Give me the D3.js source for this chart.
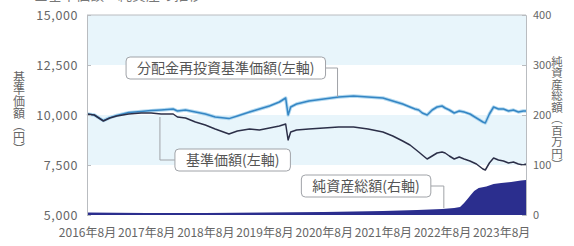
<!DOCTYPE html>
<html>
<head>
<meta charset="utf-8">
<script src="https://d3js.org/d3.v7.min.js"></script>
<style>
  body { margin: 0; background: #fff; }
  text { font-family: "Noto Sans CJK JP", "Noto Sans", sans-serif; }
</style>
</head>
<body>
<div id="chart"></div>
<script>
// 基準価額・分配金再投資基準価額 (円)
const lineDates = [
  "2016-08-01","2016-09-15","2016-11-10","2016-12-20","2017-02-01","2017-04-15","2017-07-01","2017-09-01",
  "2017-11-01","2018-01-15","2018-02-10","2018-04-01","2018-06-01","2018-08-01","2018-10-01","2018-12-25",
  "2019-02-15","2019-05-01","2019-07-01","2019-09-01","2019-11-01","2019-12-10","2019-12-25","2020-01-10",
  "2020-02-15","2020-05-01","2020-08-01","2020-11-01","2021-02-01","2021-05-01","2021-08-01","2021-10-01",
  "2021-12-01","2022-01-15","2022-02-15","2022-03-10","2022-04-01","2022-05-01","2022-06-01","2022-07-01",
  "2022-08-01","2022-08-20","2022-09-15","2022-10-15","2022-11-15","2022-12-15","2023-01-20","2023-03-01",
  "2023-04-10","2023-04-25","2023-05-20","2023-06-15","2023-07-15","2023-08-15","2023-09-15","2023-10-15",
  "2023-11-15","2023-12-15","2024-01-01"
];
const navValues = [
  10050,10000,9700,9850,9950,10050,10100,10100,
  10050,10050,9900,9850,9650,9500,9300,9050,
  9200,9300,9250,9350,9450,9550,8750,9150,
  9250,9300,9350,9400,9400,9300,9150,8950,
  8700,8500,8300,8150,8000,7800,7950,8100,
  8150,8100,7950,7800,7900,7800,7700,7550,
  7300,7250,7600,7850,7750,7700,7600,7650,
  7550,7500,7550
];
const reinvValues = [
  10050,10000,9720,9870,9980,10120,10180,10220,
  10250,10300,10200,10250,10150,10050,9900,9820,
  9950,10150,10300,10450,10650,10850,10000,10400,
  10550,10700,10800,10900,10950,10900,10850,10700,
  10550,10400,10300,10250,10100,10000,10250,10400,
  10450,10350,10250,10100,10200,10150,10050,9850,
  9650,9600,10050,10400,10300,10300,10200,10250,
  10150,10200,10200
];
// 純資産総額 (百万円)
const assetDates = [
  "2016-08-01","2017-08-01","2018-08-01","2019-08-01","2020-08-01","2021-08-01","2022-03-01","2022-08-01",
  "2022-10-15","2022-11-20","2022-12-15","2023-01-05","2023-01-25","2023-02-15","2023-03-15","2023-05-01",
  "2023-06-15","2023-08-01","2023-10-01","2023-12-01","2024-01-01"
];
const assetValues = [
  5,4,4,5,6,8,10,12,
  14,16,24,32,40,48,54,57,
  62,64,66,69,70
];
const leftTicks = [5000, 7500, 10000, 12500, 15000];
const rightTicks = [0, 100, 200, 300, 400];
const xTickDates = ["2016-08-01","2017-08-01","2018-08-01","2019-08-01","2020-08-01","2021-08-01","2022-08-01","2023-08-01"];

const W = 574, H = 246;
const m = {top: 15, right: 48, bottom: 31, left: 87};
const parse = d3.timeParse("%Y-%m-%d");

const svg = d3.select("#chart").append("svg")
  .attr("width", W).attr("height", H);

const x = d3.scaleTime()
  .domain([parse("2016-08-01"), parse("2024-01-01")])
  .range([m.left, W - m.right]);
const yL = d3.scaleLinear().domain([5000, 15000]).range([H - m.bottom, m.top]);
const yR = d3.scaleLinear().domain([0, 400]).range([H - m.bottom, m.top]);

// heading, cut off by the top edge
svg.append("text").attr("x", 34).attr("y", 0)
  .attr("font-size", 14).attr("fill", "#777")
  .text("■基準価額・純資産の推移");

// background bands
const bands = [[12500, 15000], [7500, 10000]];
svg.selectAll(".band").data(bands).enter().append("rect")
  .attr("x", m.left).attr("width", W - m.right - m.left)
  .attr("y", d => yL(d[1])).attr("height", d => yL(d[0]) - yL(d[1]))
  .attr("fill", "#e8f5fb");

// net assets area
const assets = assetDates.map((d, i) => ({date: parse(d), v: assetValues[i]}));
svg.append("path").datum(assets)
  .attr("fill", "#2b2e8e")
  .attr("d", d3.area().x(d => x(d.date)).y0(yR(0)).y1(d => yR(d.v)));

// lines
const pts = lineDates.map((d, i) => ({date: parse(d), nav: navValues[i], re: reinvValues[i]}));
const lineRe = d3.line().x(d => x(d.date)).y(d => yL(d.re));
const lineNav = d3.line().x(d => x(d.date)).y(d => yL(d.nav));
svg.append("path").datum(pts).attr("fill", "none")
  .attr("stroke", "#b3d9f0").attr("stroke-width", 3.4).attr("stroke-linejoin", "round").attr("d", lineRe);
svg.append("path").datum(pts).attr("fill", "none")
  .attr("stroke", "#3586c4").attr("stroke-width", 1.5).attr("stroke-linejoin", "round").attr("d", lineRe);
svg.append("path").datum(pts).attr("fill", "none")
  .attr("stroke", "#2c2f48").attr("stroke-width", 1.5).attr("stroke-linejoin", "round").attr("d", lineNav);

// frame
const frame = svg.append("g").attr("stroke", "#b9bcc0").attr("fill", "none");
frame.append("line").attr("x1", m.left).attr("x2", W - m.right).attr("y1", m.top).attr("y2", m.top);

// axes
const axL = svg.append("g").attr("transform", `translate(${m.left},0)`)
  .call(d3.axisLeft(yL).tickValues(leftTicks).tickSize(-4).tickPadding(9).tickFormat(d3.format(",")));
const axR = svg.append("g").attr("transform", `translate(${W - m.right},0)`)
  .call(d3.axisRight(yR).tickValues(rightTicks).tickSize(-4).tickPadding(7));
const axX = svg.append("g").attr("transform", `translate(0,${H - m.bottom})`)
  .call(d3.axisBottom(x).tickValues(xTickDates.map(parse)).tickSize(0).tickPadding(13)
    .tickFormat(d3.timeFormat("%Y年%-m月")));
axX.select(".domain").remove();
[axL, axR].forEach(a => {
  a.select(".domain").attr("stroke", "#b9bcc0");
  a.selectAll(".tick line").attr("stroke", "#b9bcc0");
});
axL.selectAll("text").attr("font-size", 12.5).attr("fill", "#666").attr("letter-spacing", 0.6);
axR.selectAll("text").attr("font-size", 11).attr("fill", "#666");
axX.selectAll("text").attr("font-size", 12).attr("fill", "#666");

// axis titles (vertical)
svg.append("text").attr("transform", `translate(19,${(m.top + H - m.bottom) / 2 - 2})`)
  .attr("font-size", 12).attr("fill", "#666").attr("text-anchor", "middle")
  .style("writing-mode", "vertical-rl").text("基準価額（円）");
svg.append("text").attr("transform", `translate(557,${(m.top + H - m.bottom) / 2 - 2})`)
  .attr("font-size", 11.5).attr("fill", "#666").attr("text-anchor", "middle")
  .style("writing-mode", "vertical-rl").text("純資産総額（百万円）");

// callouts
const notes = [
  {label: "分配金再投資基準価額(左軸)", date: "2020-10-25", v: 10900, scale: yL, side: "left", dx: 12, dy: -29},
  {label: "基準価額(左軸)", date: "2017-10-25", v: 9900, scale: yL, side: "right", dx: 15, dy: 43},
  {label: "純資産総額(右軸)", date: "2022-08-12", v: 14, scale: yR, side: "left", dx: 13, dy: -22}
];
notes.forEach(n => {
  const ax = x(parse(n.date)), ay = n.scale(n.v);
  const g = svg.append("g");
  const t = g.append("text").attr("font-size", 14).attr("fill", "#555").text(n.label);
  const tw = t.node().getComputedTextLength();
  const bw = tw + 22, bh = 22;
  const my = ay + n.dy;
  const bx = n.side === "left" ? ax - n.dx - bw : ax + n.dx;
  const ex = n.side === "left" ? bx + bw : bx;
  g.insert("path", "text").attr("fill", "none").attr("stroke", "#a0a3a8")
    .attr("d", `M${ex},${my}H${ax}V${ay}`);
  g.insert("rect", "text").attr("x", bx).attr("y", my - bh / 2).attr("width", bw).attr("height", bh)
    .attr("rx", 4).attr("fill", "#fff").attr("stroke", "#a0a3a8");
  t.attr("x", bx + 11).attr("y", my + 5);
});
</script>
</body>
</html>
